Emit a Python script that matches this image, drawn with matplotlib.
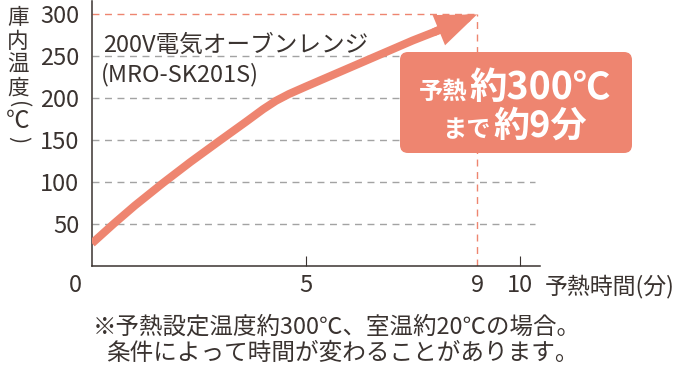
import matplotlib
matplotlib.use('Agg')
import matplotlib.pyplot as plt
import matplotlib.transforms as mtransforms
from matplotlib.patches import FancyBboxPatch

plt.rcParams['font.family'] = ['Noto Sans CJK JP', 'DejaVu Sans']

# data
minutes = [0, 0.5, 1.0, 1.66, 2.3, 3.0, 3.6, 4.0, 4.3, 4.6, 5.0, 5.5, 6.0,
           6.5, 7.0, 7.5, 8.0, 8.5, 9.0]
temps = [27, 50, 72, 99, 124, 150, 172, 187, 197, 205, 214, 225, 236,
         247, 258, 269, 279, 290, 300]
x_ticks = [0, 5, 9, 10]
y_ticks = [50, 100, 150, 200, 250, 300]
grid_levels = [50, 100, 150, 200, 250]
target_min = 9
target_temp = 300

salmon = '#ee8570'
ink = '#3a3330'
grid_gray = '#a3a3a3'

fig = plt.figure(figsize=(6.8, 3.71), dpi=100)
ax = fig.add_axes([92 / 680, 105 / 371, 448 / 680, 265 / 371])
ax.set_xlim(0, 10.47)
ax.set_ylim(0, 316)

for s in ['top', 'right']:
    ax.spines[s].set_visible(False)
for s in ['left', 'bottom']:
    ax.spines[s].set_color(ink)
    ax.spines[s].set_linewidth(1.1)

# gridlines
ax.hlines(grid_levels, 0, 10.35, colors=grid_gray, linewidth=1.0,
          linestyles=(0, (5, 4)), zorder=1)
ax.hlines(target_temp, 0, target_min, colors=salmon, linewidth=1.0,
          linestyles=(0, (5, 4)), zorder=1)
ax.vlines(target_min, 0, target_temp, colors=salmon, linewidth=1.0,
          linestyles=(0, (5, 4)), zorder=1)

# curve + arrow head
ax.plot(minutes[:-1], temps[:-1], color=salmon, linewidth=5.8,
        solid_capstyle='butt', solid_joinstyle='round', zorder=3)
ax.annotate('', xy=(minutes[-1], temps[-1]), xytext=(minutes[-3], temps[-3]),
            arrowprops=dict(arrowstyle='-|>,head_length=19,head_width=7.5',
                            mutation_scale=1, color=salmon, lw=5.8,
                            shrinkA=0, shrinkB=0, joinstyle='miter'),
            zorder=3)

# ticks
ax.set_yticks(y_ticks)
ax.set_yticklabels([str(v) for v in y_ticks])
ax.tick_params(axis='y', length=0, pad=9, labelsize=17, labelcolor=ink)
ax.set_xticks(x_ticks)
ax.set_xticklabels([str(v) for v in x_ticks])
ax.tick_params(axis='x', direction='in', length=7, width=0.8, color=ink,
               pad=6, labelsize=17, labelcolor=ink)
xt = ax.xaxis.get_major_ticks()
xt[0].tick1line.set_visible(False)
xt[2].tick1line.set_visible(False)
off = mtransforms.ScaledTranslation(-17 / 100, 0, fig.dpi_scale_trans)
lab0 = ax.get_xticklabels()[0]
lab0.set_transform(lab0.get_transform() + off)

# overlay in pixel coordinates for the text and box
ov = fig.add_axes([0, 0, 1, 1], zorder=5)
ov.set_xlim(0, 680)
ov.set_ylim(371, 0)
ov.axis('off')
ov.patch.set_alpha(0)

ov.text(545, 286, '予熱時間(分)', fontsize=16.5, color=ink, ha='left', va='center')

# vertical y label
for ch, yy in zip(['庫', '内', '温', '度'], [18, 42, 65, 89]):
    ov.text(18, yy, ch, fontsize=15.5, color=ink, ha='center', va='center')
ov.text(18, 105, '(', fontsize=15.5, color=ink, ha='center', va='center', rotation=-90)
ov.text(18, 122, '℃', fontsize=17, color=ink, ha='center', va='center')
ov.text(18, 140, ')', fontsize=15.5, color=ink, ha='center', va='center', rotation=-90)

ov.text(103, 45, '200V電気オーブンレンジ', fontsize=17, color=ink,
        ha='left', va='center')
ov.text(101, 75, '(MRO-SK201S)', fontsize=17, color=ink, ha='left', va='center')

# callout box
box = FancyBboxPatch((400, 52), 232, 101, boxstyle='round,pad=0,rounding_size=8',
                     facecolor=salmon, edgecolor='none')
ov.add_patch(box)
ov.text(467, 99, '予熱', fontsize=17.5, fontweight='bold', color='white',
        ha='right', va='baseline')
ov.text(469, 99, '約300℃', fontsize=27, fontweight='bold', color='white',
        ha='left', va='baseline')
ov.text(491, 137, 'まで', fontsize=17.5, fontweight='bold', color='white',
        ha='right', va='baseline')
ov.text(493, 137, '約9分', fontsize=26, fontweight='bold', color='white',
        ha='left', va='baseline')

# footnote
ov.text(337, 327, '※予熱設定温度約300℃、室温約20℃の場合。', fontsize=16.9,
        color=ink, ha='center', va='center')
ov.text(342, 353, '条件によって時間が変わることがあります。', fontsize=17,
        color=ink, ha='center', va='center')

fig.savefig('out.png', dpi=100)
